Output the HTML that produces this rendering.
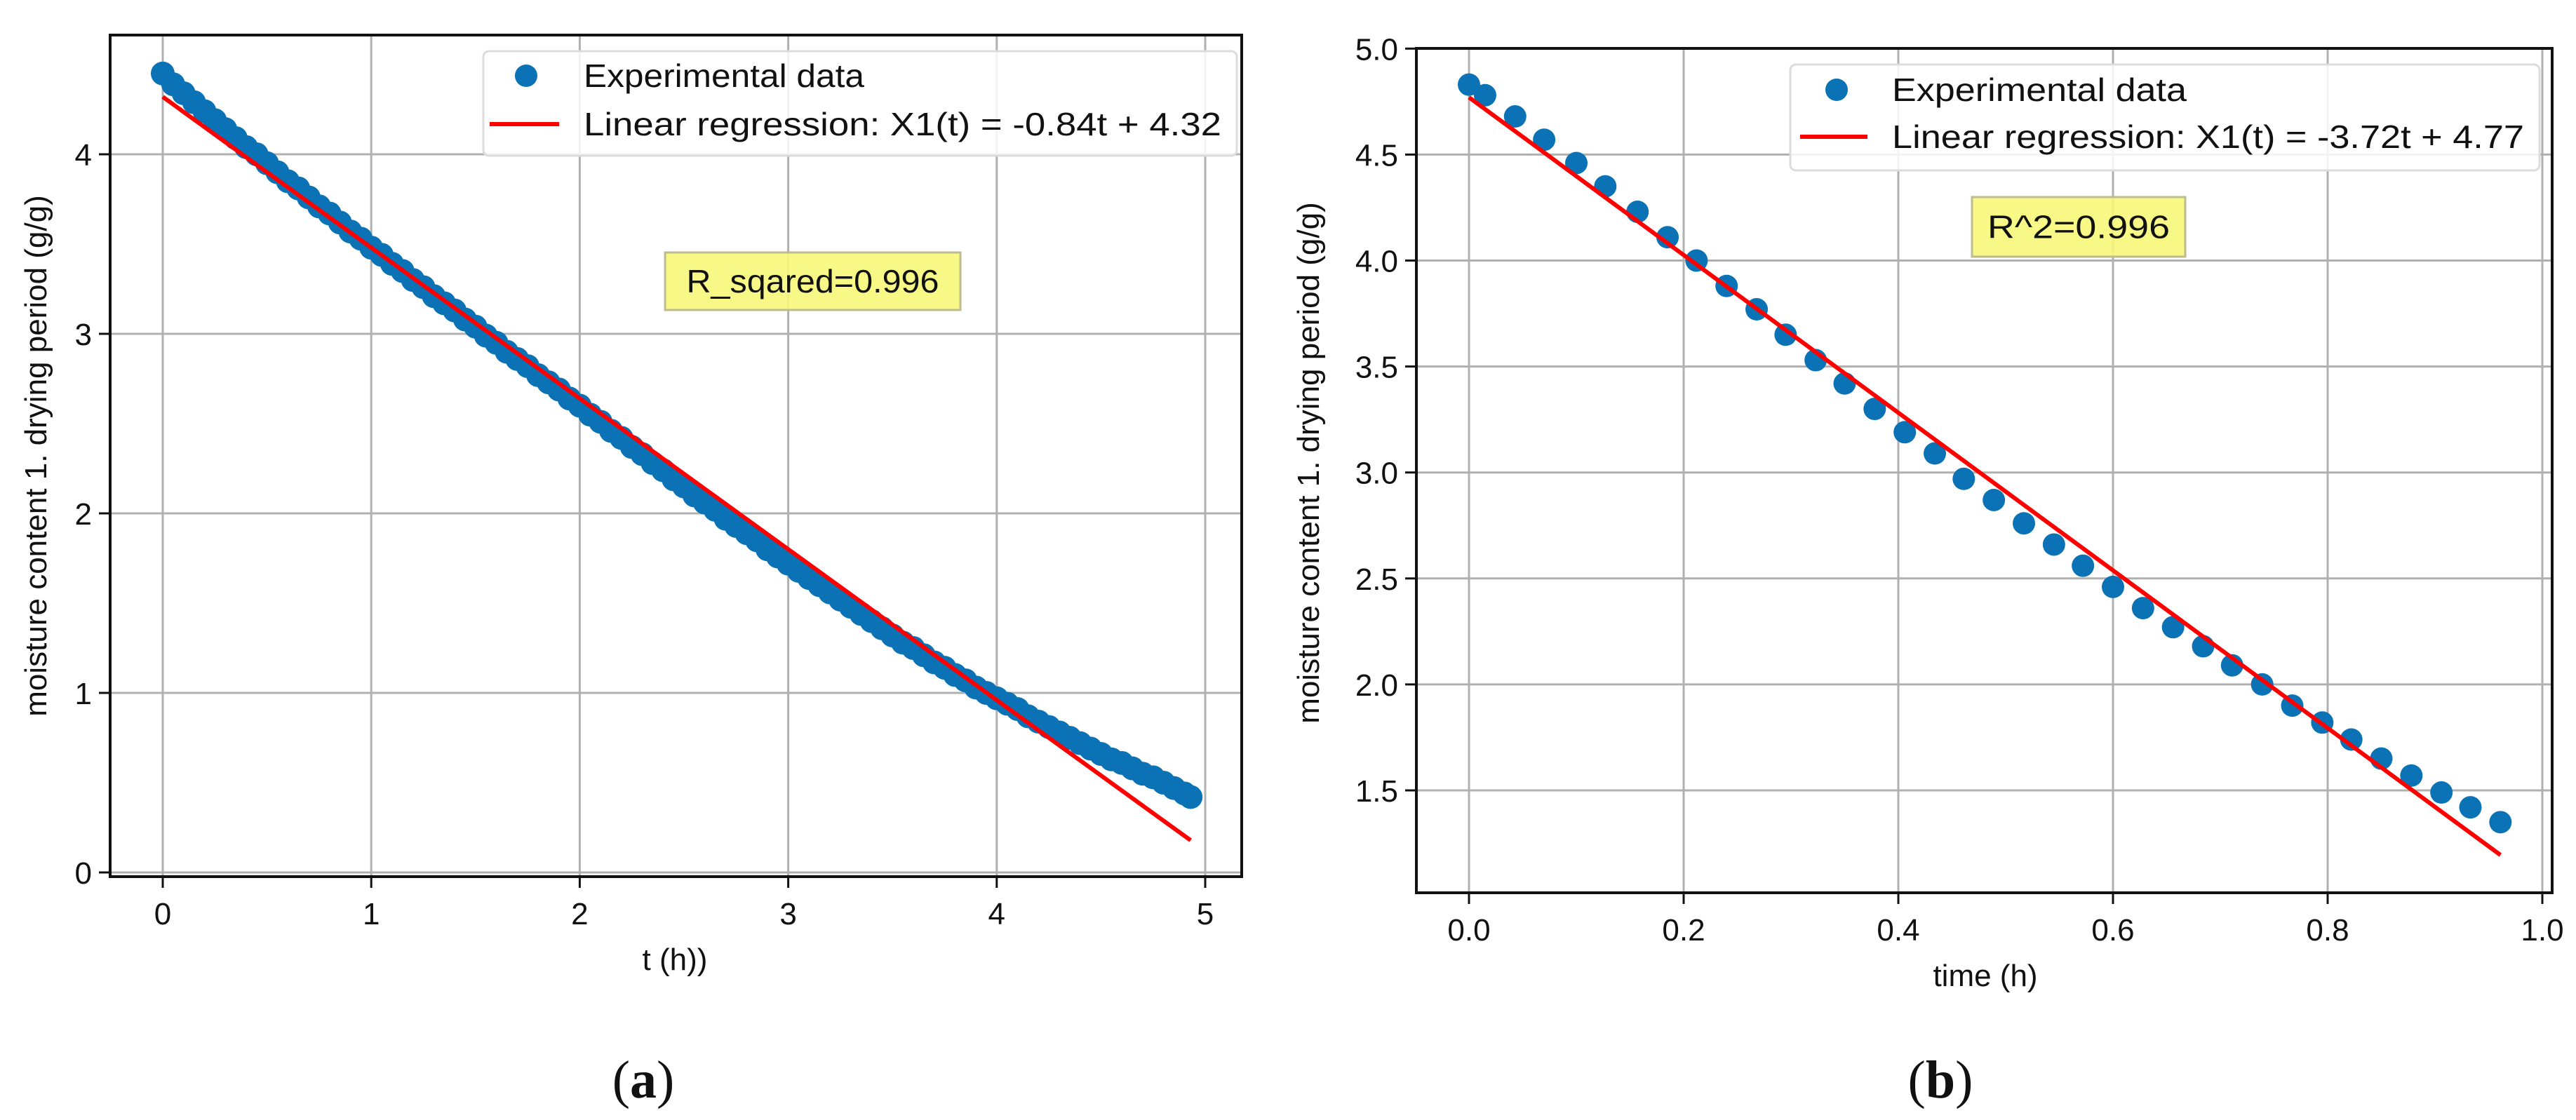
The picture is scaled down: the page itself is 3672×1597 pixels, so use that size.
<!DOCTYPE html>
<html><head><meta charset="utf-8"><style>
html,body{margin:0;padding:0;background:#fff;}
svg{display:block;}
text{font-family:"Liberation Sans","DejaVu Sans",sans-serif;fill:#111;}
.cap{font-family:"Liberation Serif",serif;}
</style></head><body>
<svg id="fig" width="3672" height="1597" viewBox="0 0 3672 1597" xmlns="http://www.w3.org/2000/svg"></svg>
<script>
// ---- Panel (a) data ----
const aTimes = [0,0.05,0.1,0.15,0.2,0.25,0.3,0.35,0.4,0.45,0.5,0.55,0.6,0.65,0.7,0.75,0.8,0.85,0.9,0.95,1.0,1.05,1.1,1.15,1.2,1.25,1.3,1.35,1.4,1.45,1.5,1.55,1.6,1.65,1.7,1.75,1.8,1.85,1.9,1.95,2.0,2.05,2.1,2.15,2.2,2.25,2.3,2.35,2.4,2.45,2.5,2.55,2.6,2.65,2.7,2.75,2.8,2.85,2.9,2.95,3.0,3.05,3.1,3.15,3.2,3.25,3.3,3.35,3.4,3.45,3.5,3.55,3.6,3.65,3.7,3.75,3.8,3.85,3.9,3.95,4.0,4.05,4.1,4.15,4.2,4.25,4.3,4.35,4.4,4.45,4.5,4.55,4.6,4.65,4.7,4.75,4.8,4.85,4.9,4.93];
const aMoisture = [4.45,4.39,4.34,4.29,4.24,4.19,4.14,4.09,4.04,4.00,3.95,3.90,3.85,3.81,3.76,3.71,3.67,3.62,3.57,3.53,3.48,3.44,3.39,3.35,3.30,3.26,3.21,3.17,3.13,3.08,3.04,2.99,2.95,2.90,2.86,2.82,2.77,2.73,2.69,2.64,2.60,2.55,2.51,2.46,2.42,2.37,2.33,2.28,2.24,2.19,2.15,2.10,2.06,2.02,1.97,1.93,1.89,1.85,1.80,1.76,1.72,1.68,1.64,1.60,1.56,1.52,1.48,1.44,1.40,1.36,1.32,1.28,1.25,1.21,1.17,1.14,1.10,1.07,1.03,1.00,0.97,0.94,0.91,0.87,0.84,0.81,0.78,0.75,0.72,0.69,0.66,0.63,0.61,0.58,0.55,0.53,0.50,0.47,0.44,0.42];
const aFit = [-0.84, 4.32];
const aFitRange = [0, 4.93];
const aXTicks = [0,1,2,3,4,5];
const aXTickLabels = ["0","1","2","3","4","5"];
const aYTicks = [0,1,2,3,4];
const aYTickLabels = ["0","1","2","3","4"];

// ---- Panel (b) data ----
const bTimes = [0,0.015,0.043,0.07,0.1,0.127,0.157,0.185,0.212,0.24,0.268,0.295,0.323,0.35,0.378,0.406,0.434,0.461,0.489,0.517,0.545,0.572,0.6,0.628,0.656,0.684,0.711,0.739,0.767,0.795,0.822,0.85,0.878,0.906,0.933,0.961];
const bMoisture = [4.83,4.78,4.68,4.57,4.46,4.35,4.23,4.11,4.00,3.88,3.77,3.65,3.53,3.42,3.30,3.19,3.09,2.97,2.87,2.76,2.66,2.56,2.46,2.36,2.27,2.18,2.09,2.00,1.90,1.82,1.74,1.65,1.57,1.49,1.42,1.35];
const bFit = [-3.72, 4.77];
const bFitRange = [0, 0.961];
const bXTicks = [0,0.2,0.4,0.6,0.8,1.0];
const bXTickLabels = ["0.0","0.2","0.4","0.6","0.8","1.0"];
const bYTicks = [1.5,2.0,2.5,3.0,3.5,4.0,4.5,5.0];
const bYTickLabels = ["1.5","2.0","2.5","3.0","3.5","4.0","4.5","5.0"];

const NS = "http://www.w3.org/2000/svg";
const svg = document.getElementById('fig');
function mk(tag, attrs, parent){const e=document.createElementNS(NS,tag);for(const k in attrs)e.setAttribute(k,attrs[k]);(parent||svg).appendChild(e);return e;}

function panel(cfg){
  const g = mk('g',{});
  
  
  const L=cfg.box[0],T=cfg.box[1],R=cfg.box[2],B=cfg.box[3];
  const sx = v => cfg.x0px + (v - cfg.x0v) * cfg.xs;
  const sy = v => cfg.y0px - (v - cfg.y0v) * cfg.ys;
  cfg.xt.forEach((v,i)=>{
    const gl=mk('line',{x1:sx(v),x2:sx(v),y1:T,y2:B,stroke:'#b0b0b0','stroke-width':3},g);
    
    
    const tk=mk('line',{x1:sx(v),x2:sx(v),y1:B,y2:B+16,stroke:'#111','stroke-width':3},g);
    
    
    const t=mk('text',{x:sx(v),y:B+68,'text-anchor':'middle','font-size':44},g);
    t.textContent=cfg.xtl[i];
    
    
  });
  cfg.yt.forEach((v,i)=>{
    const gl=mk('line',{x1:L,x2:R,y1:sy(v),y2:sy(v),stroke:'#b0b0b0','stroke-width':3},g);
    
    
    const tk=mk('line',{x1:L-16,x2:L,y1:sy(v),y2:sy(v),stroke:'#111','stroke-width':3},g);
    
    
    const t=mk('text',{x:L-26,y:sy(v)+16,'text-anchor':'end','font-size':44},g);
    t.textContent=cfg.ytl[i];
    
    
  });
  cfg.xs_.forEach((v,i)=>{
    const c=mk('circle',{cx:sx(v),cy:sy(cfg.ys_[i]),r:cfg.r,fill:'#0a72b5'},g);
    
    
  });
  const f0=cfg.fitR[0], f1=cfg.fitR[1];
  const ln=mk('line',{x1:sx(f0),y1:sy(cfg.fit[0]*f0+cfg.fit[1]),x2:sx(f1),y2:sy(cfg.fit[0]*f1+cfg.fit[1]),stroke:'#ff0000','stroke-width':6},g);
  
  
  const fr=mk('rect',{x:L,y:T,width:R-L,height:B-T,fill:'none',stroke:'#111','stroke-width':4},g);
  
  
  const lg=cfg.leg;
  const lgG=mk('g',{},g);
  
  
  mk('rect',{x:lg.x,y:lg.y,width:lg.w,height:lg.h,rx:8,fill:'rgba(255,255,255,0.85)',stroke:'#dcdcdc','stroke-width':3},lgG);
  const m=mk('circle',{cx:lg.mx,cy:lg.y1,r:16,fill:'#0a72b5'},lgG);
  
  
  const t1=mk('text',{x:lg.tx,y:lg.y1+16,'font-size':46,textLength:lg.w1,lengthAdjust:'spacingAndGlyphs'},lgG);
  t1.textContent='Experimental data';
  
  
  const l2=mk('line',{x1:lg.lx1,x2:lg.lx2,y1:lg.y2,y2:lg.y2,stroke:'#ff0000','stroke-width':6},lgG);
  
  
  const t2=mk('text',{x:lg.tx,y:lg.y2+16,'font-size':46,textLength:lg.w2,lengthAdjust:'spacingAndGlyphs'},lgG);
  t2.textContent=lg.label;
  
  
  const rb=cfg.rbox;
  const rg=mk('g',{},g);
  
  
  mk('rect',{x:rb.x,y:rb.y,width:rb.w,height:rb.h,fill:'#f7f77a',stroke:'#bdbd90','stroke-width':3,'fill-opacity':0.9},rg);
  const rt=mk('text',{x:rb.x+rb.w/2,y:rb.y+rb.h/2+16,'text-anchor':'middle','font-size':46,textLength:rb.tw,lengthAdjust:'spacingAndGlyphs'},rg);
  rt.textContent=rb.label;
  const xl=mk('text',{x:cfg.xlab[0],y:cfg.xlab[1],'text-anchor':'middle','font-size':44},g);
  xl.textContent=cfg.xlab[2];
  
  
  const yl=mk('text',{x:0,y:0,'text-anchor':'middle','font-size':44,transform:`translate(${cfg.ylab[0]},${cfg.ylab[1]}) rotate(-90)`},g);
  yl.textContent='moisture content 1. drying period (g/g)';
  
  
  const cp=mk('text',{x:cfg.cap[0],y:cfg.cap[1],'text-anchor':'middle','font-size':76,'class':'cap'},g);
  cp.innerHTML='(<tspan font-weight="bold">'+cfg.cap[2]+'</tspan>)';
  
  
}

panel({name:'panel-a',box:[157,50,1770,1250],x0px:232,x0v:0,xs:297.2,y0px:1244,y0v:0,ys:256,
  xt:aXTicks,xtl:aXTickLabels,yt:aYTicks,ytl:aYTickLabels,xs_:aTimes,ys_:aMoisture,r:17,fit:aFit,fitR:aFitRange,
  leg:{x:689,y:73,w:1074,h:149,mx:750,y1:108,lx1:698,lx2:797,y2:177,tx:832,w1:400,w2:909,label:'Linear regression: X1(t) = -0.84t + 4.32'},
  rbox:{x:948,y:360,w:421,h:82,tw:360,label:'R_sqared=0.996'},
  xlab:[962,1383,'t (h))'],ylab:[66,650],cap:[917,1565,'a']});

panel({name:'panel-b',box:[2019,69,3638,1273],x0px:2094,x0v:0,xs:1530,y0px:1127,y0v:1.5,ys:302.2,
  xt:bXTicks,xtl:bXTickLabels,yt:bYTicks,ytl:bYTickLabels,xs_:bTimes,ys_:bMoisture,r:16,fit:bFit,fitR:bFitRange,
  leg:{x:2552,y:92,w:1068,h:151,mx:2618,y1:128,lx1:2566,lx2:2662,y2:195,tx:2697,w1:420,w2:901,label:'Linear regression: X1(t) = -3.72t + 4.77'},
  rbox:{x:2811,y:281,w:304,h:85,tw:260,label:'R^2=0.996'},
  xlab:[2830,1406,'time (h)'],ylab:[1880,660],cap:[2766,1565,'b']});
</script>
</body></html>
